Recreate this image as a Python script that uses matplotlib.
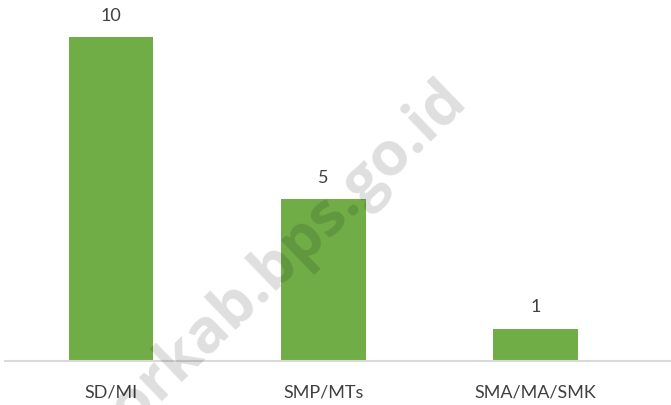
import matplotlib
matplotlib.use("Agg")
import matplotlib.pyplot as plt

categories = ["SD/MI", "SMP/MTs", "SMA/MA/SMK"]
values = [10, 5, 1]
bar_color = "#70AD47"
watermark = "bogorkab.bps.go.id"

plt.rcParams['font.family'] = ['Lato', 'DejaVu Sans']

W, H = 671, 406
fig = plt.figure(figsize=(W / 100, H / 100), dpi=100)
ax = fig.add_axes([5 / W, (H - 362) / H, (W - 5) / W, 362 / H])

x = list(range(len(categories)))
bars = ax.bar(x, values, width=0.4, color=bar_color, zorder=2)
for xi, v in zip(x, values):
    ax.annotate(str(v), (xi, v), xytext=(0, 16), textcoords="offset points",
                ha="center", va="center", fontsize=13, color="#404040")

ax.set_xlim(-0.5, 2.64)
ax.set_ylim(0, 11.17)
ax.set_xticks(x)
ax.set_xticklabels(categories, fontsize=13, color="#404040")
ax.tick_params(axis="x", length=0, pad=16)
ax.set_yticks([])
for s in ["top", "right", "left"]:
    ax.spines[s].set_visible(False)
ax.spines["bottom"].set_color("#d9d9d9")
ax.spines["bottom"].set_linewidth(1.5)

fig.text(468 / W, 1 - 101 / H, watermark, rotation=44, ha="right", va="baseline",
         rotation_mode="anchor", fontsize=44, fontweight="bold",
         color="black", alpha=0.13, family=["Open Sans", "DejaVu Sans"], zorder=10)

fig.savefig("out.png", dpi=100)
